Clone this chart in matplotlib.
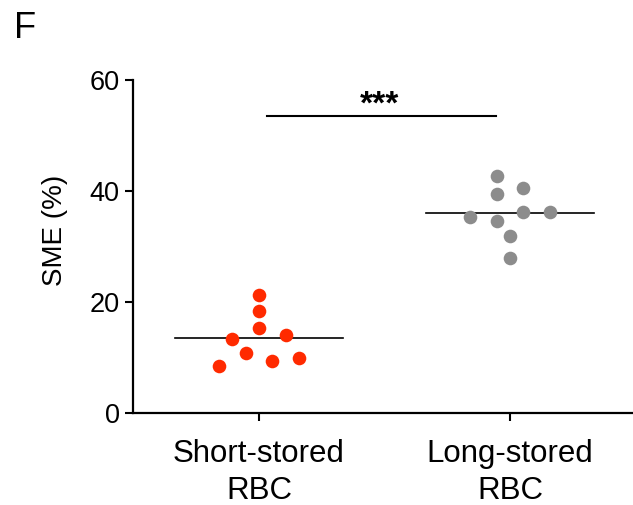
import matplotlib
matplotlib.use("Agg")
import matplotlib.pyplot as plt
import numpy as np

plt.rcParams['font.family'] = ['Liberation Sans', 'DejaVu Sans']

# data
groups = ["Short-stored\nRBC", "Long-stored\nRBC"]
short_vals = [21.2, 18.4, 15.3, 13.4, 14.1, 10.8, 8.4, 9.4, 10.0]
short_cols = [0, 0, 0, -2, 2, -1, -3, 1, 3]   # swarm column of each point
long_vals = [42.7, 39.5, 40.5, 35.4, 34.6, 36.2, 36.3, 31.9, 27.9]
long_cols = [-1, -1, 1, -3, -1, 1, 3, 0, 0]
y_ticks = [0, 20, 40, 60]
sig_text = "***"

fig = plt.figure(figsize=(6.33, 5.05), dpi=100)
ax = fig.add_axes([133/633, 1 - 413/505, 500/633, 333/505])

step = 0.053
colors = ["#ff2a00", "#8c8c8c"]
for i, (vals, cols) in enumerate([(short_vals, short_cols), (long_vals, long_cols)]):
    xs = i + step * np.array(cols)
    ax.plot(xs, vals, 'o', color=colors[i], markersize=9.8, markeredgewidth=0, zorder=3)
    ax.plot([i - 0.333, i + 0.333], [np.mean(vals)] * 2, color="black", lw=1.2, zorder=2)

# significance bar
ax.plot([0.031, 0.944], [53.6, 53.6], color="black", lw=1.5, clip_on=False)
ax.text(0.48, 55.4, sig_text, ha="center", va="center", fontsize=24, fontweight="bold")

ax.set_xlim(-0.502, 1.49)
ax.set_ylim(0, 60)
ax.set_yticks(y_ticks)
ax.set_xticks([0, 1])
ax.set_xticklabels(groups, fontsize=22.5, linespacing=1.3)
ax.tick_params(axis="y", labelsize=19.5, length=5.5, width=1.5, pad=4)
ax.tick_params(axis="x", length=5.5, width=1.5, pad=13)
for s in ["top", "right"]:
    ax.spines[s].set_visible(False)
for s in ["left", "bottom"]:
    ax.spines[s].set_linewidth(1.6)

fig.text(55/633, 1 - 230/505, "SME (%)", rotation=90, ha="center", va="center", fontsize=20)
fig.text(14/633, 1 - 38.5/505, "F", ha="left", va="baseline", fontsize=26)

fig.savefig("out.png", dpi=100)
